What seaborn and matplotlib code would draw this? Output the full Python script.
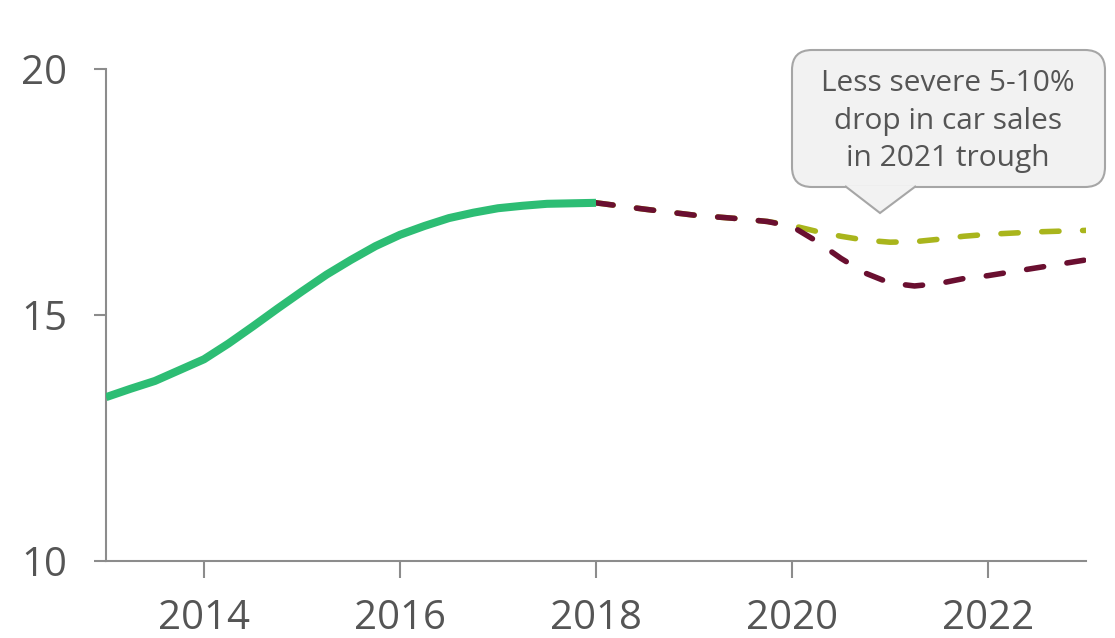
import matplotlib
matplotlib.use("Agg")
import matplotlib.pyplot as plt
import seaborn as sns
import pandas as pd
from matplotlib.patches import FancyBboxPatch, Polygon

# Historical sales (solid)
hist_years = [2013, 2013.25, 2013.5, 2013.75, 2014, 2014.25, 2014.5, 2014.75, 2015, 2015.25,
              2015.5, 2015.75, 2016, 2016.25, 2016.5, 2016.75, 2017, 2017.25, 2017.5, 2017.75, 2018]
hist_vals = [13.33, 13.50, 13.66, 13.88, 14.10, 14.42, 14.77, 15.13, 15.48, 15.82,
             16.12, 16.40, 16.63, 16.81, 16.97, 17.08, 17.17, 17.22, 17.26, 17.27, 17.28]

# Base forecast (maroon dashed)
base_years = [2018, 2018.5, 2019, 2019.5, 2019.75, 2020, 2020.25, 2020.5, 2020.75, 2021,
              2021.25, 2021.5, 2021.75, 2022, 2022.5, 2023]
base_vals = [17.28, 17.15, 17.03, 16.95, 16.90, 16.80, 16.50, 16.15, 15.85, 15.65,
             15.59, 15.64, 15.74, 15.80, 15.96, 16.12]

# Less severe scenario (olive dashed)
alt_years = [2018, 2018.5, 2019, 2019.5, 2019.75, 2020, 2020.25, 2020.5, 2020.75, 2021,
             2021.25, 2021.5, 2021.75, 2022, 2022.5, 2023]
alt_vals = [17.28, 17.15, 17.03, 16.95, 16.90, 16.82, 16.70, 16.60, 16.52, 16.48,
            16.49, 16.54, 16.60, 16.64, 16.69, 16.72]

y_ticks = [10, 15, 20]
x_ticks = [2014, 2016, 2018, 2020, 2022]
callout_text = "Less severe 5-10%\ndrop in car sales\nin 2021 trough"

sns.set_theme(style="white")
plt.rcParams['font.family'] = ['Open Sans', 'DejaVu Sans']

fig = plt.figure(figsize=(11.15, 6.38), dpi=100)
ax = fig.add_axes([106/1115, 1-561/638, (1086-106)/1115, (561-69)/638])

grey_text = "#555555"
axis_col = "#8c8c8c"

df_hist = pd.DataFrame({"year": hist_years, "val": hist_vals})
df_base = pd.DataFrame({"year": base_years, "val": base_vals})
df_alt = pd.DataFrame({"year": alt_years, "val": alt_vals})

dash_pat = (3.1, 4.25)

sns.lineplot(data=df_alt, x="year", y="val", ax=ax, color="#a9b51c", lw=4.0, zorder=2)
l = ax.lines[-1]
l.set_dashes(dash_pat)
l.set_dash_capstyle("round")
l.set_dash_joinstyle("round")
sns.lineplot(data=df_base, x="year", y="val", ax=ax, color="#6a0f30", lw=4.0, zorder=3)
l = ax.lines[-1]
l.set_dashes(dash_pat)
l.set_dash_capstyle("round")
l.set_dash_joinstyle("round")
sns.lineplot(data=df_hist, x="year", y="val", ax=ax, color="#2dbd74", lw=5.8, zorder=4)
l = ax.lines[-1]
l.set_solid_capstyle("butt")
l.set_solid_joinstyle("round")

ax.set_xlim(2013, 2023)
ax.set_ylim(10, 20)
ax.set_xticks(x_ticks)
ax.set_xticklabels([str(x) for x in x_ticks])
ax.set_yticks(y_ticks)
ax.set_yticklabels([str(y) for y in y_ticks])
ax.set_xlabel("")
ax.set_ylabel("")

for s in ["top", "right"]:
    ax.spines[s].set_visible(False)
for s in ["left", "bottom"]:
    ax.spines[s].set_color(axis_col)
    ax.spines[s].set_linewidth(1.5)

ax.tick_params(axis="y", direction="out", length=9, width=1.5, color=axis_col,
               labelsize=29, labelcolor=grey_text, pad=19, left=True)
ax.tick_params(axis="x", direction="out", length=12, width=1.5, color=axis_col,
               labelsize=29, labelcolor=grey_text, pad=15, bottom=True)

# callout box in pixel coordinates (figure)
W, H = 1115, 638
def fx(px):
    return px / W
def fy(py):
    return 1 - py / H

box = FancyBboxPatch((fx(792), fy(187)), fx(1105) - fx(792), fy(50) - fy(187),
                     boxstyle="round,pad=0,rounding_size=0.018",
                     transform=fig.transFigure, facecolor="#f2f2f2",
                     edgecolor="#a6a6a6", linewidth=1.5, zorder=10,
                     mutation_aspect=W / H)
fig.patches.append(box)
tri = Polygon([(fx(845), fy(186)), (fx(880), fy(213)), (fx(916), fy(186))],
              closed=False, transform=fig.transFigure, facecolor="#f2f2f2",
              edgecolor="#a6a6a6", linewidth=1.5, zorder=11)
fig.patches.append(tri)
fig.text(fx(948), fy(121), callout_text, ha="center", va="center",
         fontsize=21.5, color=grey_text, linespacing=1.38, zorder=12)

fig.savefig("out.png", dpi=100)
